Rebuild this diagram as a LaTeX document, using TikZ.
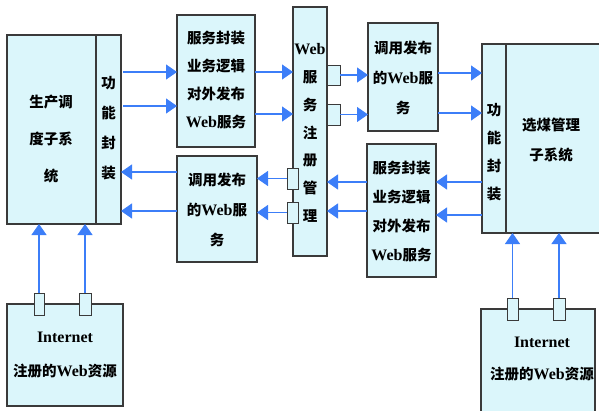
\documentclass[tikz,border=0pt]{standalone}
\usepackage{fontspec}
\setmainfont{Liberation Serif}
\newfontfamily\cjk{Noto Sans CJK SC}
\newcommand{\zh}[1]{{\cjk #1}}
\newcommand{\lat}[1]{{\fontsize{16}{16}\selectfont #1}}
\usetikzlibrary{arrows.meta,calc}
\definecolor{boxfill}{HTML}{DBF6FB}
\definecolor{boxline}{HTML}{3A3A3A}
\definecolor{arr}{HTML}{3C7EF8}
\tikzset{
  box/.style={draw=boxline, fill=boxfill, line width=1.1pt, inner sep=0pt, outer sep=0pt},
  port/.style={draw=boxline, fill=boxfill, line width=0.9pt, inner sep=0pt, outer sep=0pt},
  txt/.style={align=center, inner sep=0pt, font=\bfseries},
  link/.style={draw=arr, line width=1.1pt, -{Triangle[length=11pt,width=15pt]}},
}
\newcommand{\fs}[1]{\fontsize{14.5}{#1}\selectfont}
\begin{document}
\begin{tikzpicture}[x=1pt,y=-1pt]
\useasboundingbox (0,0) rectangle (599,410);
\clip (0,0) rectangle (599,410);
% left big system
\node[box, minimum width=89pt, minimum height=189pt, anchor=north west] (mainL) at (7,35) {};
\node[box, minimum width=25pt, minimum height=189pt, anchor=north west] (stripL) at (96,35) {};
\node[txt, font=\bfseries\fs{37}] (mainLt) at (51,139) {\zh{生产调}\\\zh{度子系}\\\zh{统}};
\node[txt, font=\bfseries\fs{30}] (stripLt) at (108.5,128) {\zh{功}\\\zh{能}\\\zh{封}\\\zh{装}};
% box2
\node[box, minimum width=78pt, minimum height=132pt, anchor=north west] (box2) at (177,15) {};
\node[txt, font=\bfseries\fs{28}] (box2t) at (216,80) {\zh{服务封装}\\\zh{业务逻辑}\\\zh{对外发布}\\\lat{Web}\zh{服务}};
% box3
\node[box, minimum width=80pt, minimum height=106pt, anchor=north west] (box3) at (177,156) {};
\node[txt, font=\bfseries\fs{30}] (box3t) at (217,210) {\zh{调用发布}\\\zh{的}\lat{Web}\zh{服}\\\zh{务}};
% registry
\node[box, minimum width=34pt, minimum height=249pt, anchor=north west] (reg) at (293,7) {};
\node[txt, font=\bfseries\fs{27.8}] (regt) at (310,133) {\lat{Web}\\\zh{服}\\\zh{务}\\\zh{注}\\\zh{册}\\\zh{管}\\\zh{理}};
\node[port, minimum width=13pt, minimum height=20pt, anchor=north west] (rp1) at (327,65) {};
\node[port, minimum width=13pt, minimum height=21pt, anchor=north west] (rp2) at (327,104) {};
\node[port, minimum width=11pt, minimum height=21pt, anchor=north west] (lp1) at (287,168) {};
\node[port, minimum width=11pt, minimum height=21pt, anchor=north west] (lp2) at (287,202) {};
% box4
\node[box, minimum width=70pt, minimum height=108pt, anchor=north west] (box4) at (368,23) {};
\node[txt, font=\bfseries\fs{30}] (box4t) at (403,78) {\zh{调用发布}\\\zh{的}\lat{Web}\zh{服}\\\zh{务}};
% box5
\node[box, minimum width=69pt, minimum height=133pt, anchor=north west] (box5) at (367,144) {};
\node[txt, font=\bfseries\fs{29}] (box5t) at (401.5,211) {\zh{服务封装}\\\zh{业务逻辑}\\\zh{对外发布}\\\lat{Web}\zh{服务}};
% right big system
\node[box, minimum width=24pt, minimum height=189pt, anchor=north west] (stripR) at (482,44) {};
\node[box, minimum width=100pt, minimum height=189pt, anchor=north west] (mainR) at (506,44) {};
\node[txt, font=\bfseries\fs{30}] (mainRt) at (551,140) {\zh{选煤管理}\\\zh{子系统}};
\node[txt, font=\bfseries\fs{28}] (stripRt) at (494,152) {\zh{功}\\\zh{能}\\\zh{封}\\\zh{装}};
% bottom left
\node[box, minimum width=116pt, minimum height=102pt, anchor=north west] (netL) at (7,304) {};
\node[txt, font=\bfseries\fs{34}] (netLt) at (65,355) {\lat{Internet}\\\zh{注册的}\lat{Web}\zh{资源}};
\node[port, minimum width=10pt, minimum height=22pt, anchor=north west] (nlp1) at (34,293) {};
\node[port, minimum width=12pt, minimum height=22pt, anchor=north west] (nlp2) at (79,293) {};
% bottom right
\node[box, minimum width=114pt, minimum height=110pt, anchor=north west] (netR) at (481,309) {};
\node[txt, font=\bfseries\fs{32}] (netRt) at (542,359) {\lat{Internet}\\\zh{注册的}\lat{Web}\zh{资源}};
\node[port, minimum width=11pt, minimum height=22pt, anchor=north west] (nrp1) at (507,298) {};
\node[port, minimum width=12pt, minimum height=22pt, anchor=north west] (nrp2) at (553,298) {};
% connectors
\draw[link] ($(stripL.east |- 0,72)+(2,0)$) -- (box2.west |- 0,72);
\draw[link] ($(stripL.east |- 0,106)+(2,0)$) -- (box2.west |- 0,106);
\draw[link] (box3.west |- 0,172) -- (stripL.east |- 0,172);
\draw[link] (box3.west |- 0,211) -- (stripL.east |- 0,211);
\draw[link] (box2.east |- 0,72) -- (reg.west |- 0,72);
\draw[link] (box2.east |- 0,114) -- (reg.west |- 0,114);
\draw[link] (rp1.east) -- (box4.west |- rp1.east);
\draw[link] (rp2.east) -- (box4.west |- rp2.east);
\draw[link] (lp1.west) -- (box3.east |- lp1.west);
\draw[link] (lp2.west) -- (box3.east |- lp2.west);
\draw[link] (box5.west |- 0,182) -- (reg.east |- 0,182);
\draw[link] (box5.west |- 0,211) -- (reg.east |- 0,211);
\draw[link] (box4.east |- 0,73) -- (stripR.west |- 0,73);
\draw[link] (box4.east |- 0,113) -- (stripR.west |- 0,113);
\draw[link] (stripR.west |- 0,182) -- (box5.east |- 0,182);
\draw[link] (stripR.west |- 0,215) -- (box5.east |- 0,215);
\draw[link] (nlp1.north) -- (nlp1.north |- mainL.south);
\draw[link] (nlp2.north) -- (nlp2.north |- mainL.south);
\draw[link] (nrp1.north) -- (nrp1.north |- stripR.south);
\draw[link] (nrp2.north) -- (nrp2.north |- mainR.south);
\end{tikzpicture}
\end{document}
